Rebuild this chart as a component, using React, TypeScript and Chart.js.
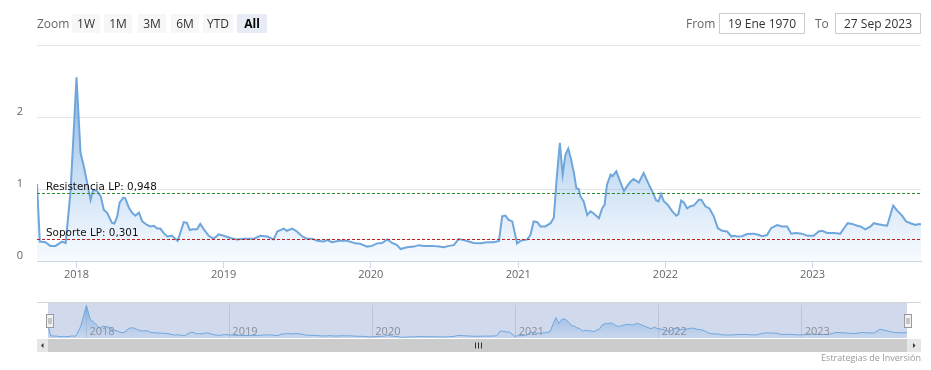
import React, { useEffect, useRef } from "react";
import { Chart, registerables } from "chart.js";

Chart.register(...registerables);

// ---------- data ----------
const SERIES_DATES: string[] = [
  // 2017
  "2017-09-25", "2017-10-02", "2017-10-16", "2017-10-28", "2017-11-10", "2017-11-26", "2017-12-05", "2017-12-17", "2017-12-25",
  // 2018
  "2018-01-01", "2018-01-11", "2018-01-19", "2018-01-29", "2018-02-05", "2018-02-11", "2018-02-21", "2018-03-02", "2018-03-10",
  "2018-03-18", "2018-03-30", "2018-04-05", "2018-04-12", "2018-04-18", "2018-04-27", "2018-05-02", "2018-05-11", "2018-05-19",
  "2018-05-27", "2018-06-05", "2018-06-13", "2018-06-25", "2018-07-03", "2018-07-12", "2018-07-20", "2018-07-28", "2018-08-05",
  "2018-08-14", "2018-08-26", "2018-09-03", "2018-09-09", "2018-09-16", "2018-09-24", "2018-10-02", "2018-10-09", "2018-10-17",
  "2018-10-27", "2018-11-04", "2018-11-13", "2018-11-25", "2018-12-07", "2018-12-20",
  // 2019
  "2019-01-01", "2019-01-18", "2019-02-03", "2019-02-20", "2019-03-17", "2019-04-02", "2019-04-19", "2019-05-05", "2019-05-14",
  "2019-05-22", "2019-05-30", "2019-06-07", "2019-06-20", "2019-07-02", "2019-07-15", "2019-07-27", "2019-08-09", "2019-08-21",
  "2019-09-06", "2019-09-15", "2019-09-27", "2019-10-14", "2019-11-03", "2019-11-24", "2019-12-06", "2019-12-23",
  // 2020
  "2020-01-04", "2020-01-17", "2020-01-29", "2020-02-11", "2020-02-23", "2020-03-06", "2020-03-15", "2020-03-31", "2020-04-17",
  "2020-04-29", "2020-05-12", "2020-06-01", "2020-06-18", "2020-06-30", "2020-07-13", "2020-07-25", "2020-08-06", "2020-08-19",
  "2020-08-31", "2020-09-12", "2020-09-29", "2020-10-16", "2020-11-01", "2020-11-14", "2020-11-22", "2020-11-30", "2020-12-08",
  "2020-12-17", "2020-12-29",
  // 2021
  "2021-01-06", "2021-01-23", "2021-01-31", "2021-02-08", "2021-02-17", "2021-02-25", "2021-03-09", "2021-03-22", "2021-03-30",
  "2021-04-06", "2021-04-14", "2021-04-21", "2021-04-28", "2021-05-05", "2021-05-12", "2021-05-19", "2021-05-25", "2021-05-31",
  "2021-06-04", "2021-06-12", "2021-06-21", "2021-06-29", "2021-07-07", "2021-07-20", "2021-07-28", "2021-08-03", "2021-08-09",
  "2021-08-18", "2021-08-23", "2021-09-01", "2021-09-11", "2021-09-20", "2021-09-28", "2021-10-06", "2021-10-14", "2021-10-27",
  "2021-11-08", "2021-11-21", "2021-11-29", "2021-12-09", "2021-12-15", "2021-12-21", "2021-12-28",
  // 2022
  "2022-01-07", "2022-01-18", "2022-01-28", "2022-02-02", "2022-02-09", "2022-02-16", "2022-02-24", "2022-03-04", "2022-03-12",
  "2022-03-25", "2022-03-31", "2022-04-10", "2022-04-20", "2022-05-01", "2022-05-11", "2022-05-22", "2022-06-03", "2022-06-14",
  "2022-06-20", "2022-06-28", "2022-07-10", "2022-07-23", "2022-08-08", "2022-08-21", "2022-08-29", "2022-09-10", "2022-09-20",
  "2022-10-05", "2022-10-18", "2022-10-30", "2022-11-09", "2022-11-20", "2022-12-06", "2022-12-19",
  // 2023
  "2023-01-04", "2023-01-16", "2023-01-25", "2023-02-06", "2023-02-23", "2023-03-11", "2023-03-20", "2023-03-29", "2023-04-09",
  "2023-04-22", "2023-04-30", "2023-05-12", "2023-05-25", "2023-06-02", "2023-06-10", "2023-06-23", "2023-07-05", "2023-07-20",
  "2023-07-30", "2023-08-11", "2023-08-21", "2023-09-01", "2023-09-13", "2023-09-22", "2023-09-27",
];

const SERIES_VALUES: number[] = [
  // 2017
  1.07, 0.27, 0.26, 0.21, 0.21, 0.27, 0.25, 0.95, 1.79,
  // 2018
  2.55, 1.5, 1.32, 1.04, 0.85, 0.99, 0.97, 0.9, 0.71,
  0.67, 0.53, 0.52, 0.62, 0.81, 0.88, 0.87, 0.74, 0.67,
  0.63, 0.67, 0.55, 0.5, 0.48, 0.49, 0.45, 0.45, 0.39,
  0.34, 0.35, 0.31, 0.28, 0.4, 0.54, 0.53, 0.43, 0.44,
  0.44, 0.515, 0.44, 0.35, 0.31, 0.37,
  // 2019
  0.35, 0.32, 0.3, 0.31, 0.31, 0.35, 0.34, 0.3, 0.41,
  0.43, 0.45, 0.42, 0.45, 0.41, 0.34, 0.31, 0.31, 0.28,
  0.27, 0.29, 0.26, 0.28, 0.28, 0.245, 0.24, 0.2,
  // 2020
  0.21, 0.245, 0.25, 0.3, 0.25, 0.22, 0.166, 0.19, 0.2,
  0.22, 0.21, 0.21, 0.2, 0.19, 0.21, 0.22, 0.305, 0.29,
  0.27, 0.25, 0.245, 0.26, 0.26, 0.28, 0.62, 0.63, 0.57,
  0.55, 0.245,
  // 2021
  0.28, 0.3, 0.36, 0.55, 0.54, 0.48, 0.48, 0.525, 0.6,
  1.13, 1.64, 1.2, 1.48, 1.56, 1.41, 1.22, 1.01, 1.0,
  0.9, 0.83, 0.64, 0.69, 0.66, 0.595, 0.73, 0.78, 1.06,
  1.2, 1.18, 1.245, 1.1, 0.97, 1.04, 1.1, 1.14, 1.09,
  1.22, 1.06, 0.97, 0.84, 0.83, 0.93, 0.83,
  // 2022
  0.78, 0.69, 0.63, 0.65, 0.84, 0.81, 0.73, 0.76, 0.77,
  0.85, 0.85, 0.76, 0.73, 0.62, 0.455, 0.42, 0.41, 0.34,
  0.35, 0.34, 0.345, 0.375, 0.38, 0.36, 0.345, 0.36, 0.455,
  0.5, 0.48, 0.48, 0.38, 0.39, 0.38, 0.35,
  // 2023
  0.35, 0.41, 0.42, 0.39, 0.39, 0.38, 0.455, 0.525, 0.515,
  0.49, 0.48, 0.44, 0.48, 0.525, 0.515, 0.5, 0.49, 0.77,
  0.7, 0.63, 0.55, 0.525, 0.5, 0.515, 0.51,
];

const YEAR_TICKS: number[] = [2018, 2019, 2020, 2021, 2022, 2023];
const Y_TICKS: number[] = [0, 1, 2, 3];
const Y_MIN = 0;
const Y_MAX = 3;

const RESISTANCE_VALUE = 0.948;
const RESISTANCE_LABEL = "Resistencia LP: 0,948";
const SUPPORT_VALUE = 0.301;
const SUPPORT_LABEL = "Soporte LP: 0,301";

const ZOOM_LABEL = "Zoom";
const ZOOM_BUTTONS: string[] = ["1W", "1M", "3M", "6M", "YTD", "All"];
const SELECTED_BUTTON = "All";
const FROM_LABEL = "From";
const FROM_VALUE = "19 Ene 1970";
const TO_LABEL = "To";
const TO_VALUE = "27 Sep 2023";
const CREDIT_TEXT = "Estrategias de Inversión";

// ---------- derived ----------
const POINTS = SERIES_DATES.map((d, i) => ({ x: Date.parse(d), y: SERIES_VALUES[i] }));
const X_MIN = POINTS[0].x;
const X_MAX = POINTS[POINTS.length - 1].x;
const YEAR_MS = YEAR_TICKS.map((y) => Date.UTC(y, 0, 1));
const DATA_MAX = Math.max(...SERIES_VALUES);
const DATA_MIN = Math.min(...SERIES_VALUES);

const FONT = '"Open Sans", "DejaVu Sans", sans-serif';
const LINE_COLOR = "#6fa6dc";

const PLOT_LINES = [
  { value: RESISTANCE_VALUE, label: RESISTANCE_LABEL, color: "#2a8f2a" },
  { value: SUPPORT_VALUE, label: SUPPORT_LABEL, color: "#c02020" },
];

const plotLinesPlugin = {
  id: "plotLines",
  afterDatasetsDraw(chart: any) {
    const { ctx, chartArea, scales } = chart;
    const y = scales.y;
    PLOT_LINES.forEach((pl) => {
      const py = Math.round(y.getPixelForValue(pl.value)) + 0.5;
      ctx.save();
      ctx.strokeStyle = pl.color;
      ctx.lineWidth = 1;
      ctx.setLineDash([3, 2]);
      ctx.beginPath();
      ctx.moveTo(chartArea.left, py);
      ctx.lineTo(chartArea.right, py);
      ctx.stroke();
      ctx.setLineDash([]);
      ctx.fillStyle = "#111";
      ctx.font = `10.4px "DejaVu Sans", sans-serif`;
      ctx.textBaseline = "middle";
      ctx.textAlign = "left";
      ctx.fillText(pl.label, chartArea.left + 9, py - 6);
      ctx.restore();
    });
  },
};

const navigatorPlugin = {
  id: "navigatorDecor",
  beforeDraw(chart: any) {
    const { ctx, chartArea } = chart;
    ctx.save();
    ctx.fillStyle = "rgba(102,133,194,0.3)";
    ctx.fillRect(chartArea.left, chartArea.top - 2, chartArea.right - chartArea.left, chartArea.bottom - chartArea.top + 2);
    ctx.strokeStyle = "#d6d6d6";
    ctx.lineWidth = 1;
    ctx.beginPath();
    ctx.moveTo(37, chartArea.top - 2.5);
    ctx.lineTo(921, chartArea.top - 2.5);
    ctx.stroke();
    ctx.restore();
  },
  afterDatasetsDraw(chart: any) {
    const { ctx, chartArea, scales } = chart;
    const xs = scales.x;
    ctx.save();
    ctx.fillStyle = "#8a8f99";
    ctx.font = `11px ${FONT}`;
    ctx.textAlign = "left";
    ctx.textBaseline = "middle";
    xs.ticks.forEach((t: any) => {
      const px = xs.getPixelForValue(t.value);
      ctx.fillText(String(new Date(t.value).getUTCFullYear()), px + 3, chartArea.bottom - 6);
    });
    ctx.restore();
  },
  afterDraw(chart: any) {
    const { ctx, chartArea } = chart;
    ctx.save();
    // scrollbar
    const sy = chartArea.bottom + 1;
    const sh = 13;
    ctx.fillStyle = "#f2f2f2";
    ctx.fillRect(37, sy, 884, sh);
    ctx.fillStyle = "#cccccc";
    ctx.fillRect(chartArea.left, sy, chartArea.right - chartArea.left, sh);
    // buttons
    ctx.fillStyle = "#e6e6e6";
    ctx.fillRect(37, sy, 11, sh);
    ctx.fillRect(chartArea.right, sy, 921 - chartArea.right, sh);
    ctx.fillStyle = "#333";
    const cy = sy + sh / 2;
    ctx.beginPath();
    ctx.moveTo(41, cy);
    ctx.lineTo(43.5, cy - 2.5);
    ctx.lineTo(43.5, cy + 2.5);
    ctx.closePath();
    ctx.fill();
    const rx = (chartArea.right + 921) / 2;
    ctx.beginPath();
    ctx.moveTo(rx + 1.5, cy);
    ctx.lineTo(rx - 1, cy - 2.5);
    ctx.lineTo(rx - 1, cy + 2.5);
    ctx.closePath();
    ctx.fill();
    // grip
    const gx = Math.round((chartArea.left + chartArea.right) / 2);
    ctx.strokeStyle = "#333";
    ctx.lineWidth = 1;
    for (let k = -1; k <= 1; k++) {
      ctx.beginPath();
      ctx.moveTo(gx + k * 3 + 0.5, cy - 3);
      ctx.lineTo(gx + k * 3 + 0.5, cy + 3);
      ctx.stroke();
    }
    // handles
    const hy = chartArea.top + 9;
    [chartArea.left + 1, chartArea.right].forEach((hx) => {
      const x0 = Math.round(hx - 3.5) + 0.5;
      ctx.fillStyle = "#f2f2f2";
      ctx.strokeStyle = "#999999";
      ctx.fillRect(x0, hy + 0.5, 7, 13);
      ctx.strokeRect(x0, hy + 0.5, 7, 13);
      ctx.beginPath();
      ctx.moveTo(x0 + 2.5, hy + 4);
      ctx.lineTo(x0 + 2.5, hy + 10);
      ctx.moveTo(x0 + 4.5, hy + 4);
      ctx.lineTo(x0 + 4.5, hy + 10);
      ctx.stroke();
    });
    ctx.restore();
  },
};

function makeGradient(chart: any, topAlpha: number, bottomAlpha: number) {
  const { ctx, chartArea, scales } = chart;
  if (!chartArea) return "rgba(124,181,236,0.3)";
  const top = scales.y.getPixelForValue(DATA_MAX);
  const g = ctx.createLinearGradient(0, top, 0, chartArea.bottom);
  g.addColorStop(0, `rgba(90,148,212,${topAlpha})`);
  g.addColorStop(1, `rgba(124,181,236,${bottomAlpha})`);
  return g;
}

export default function App() {
  const mainRef = useRef<HTMLCanvasElement | null>(null);
  const navRef = useRef<HTMLCanvasElement | null>(null);

  useEffect(() => {
    const tickFont = { family: FONT, size: 11 };
    const main = new Chart(mainRef.current as HTMLCanvasElement, {
      type: "line",
      data: {
        datasets: [
          {
            data: POINTS,
            borderColor: LINE_COLOR,
            borderWidth: 2,
            pointRadius: 0,
            tension: 0,
            fill: "start",
            backgroundColor: (c: any) => makeGradient(c.chart, 0.72, 0.06),
          },
        ],
      },
      options: {
        animation: false,
        responsive: false,
        maintainAspectRatio: false,
        events: [],
        layout: { padding: { top: 45, right: 10, left: 0, bottom: 0 } },
        plugins: { legend: { display: false }, tooltip: { enabled: false } },
        scales: {
          x: {
            type: "linear",
            min: X_MIN,
            max: X_MAX,
            afterBuildTicks: (s: any) => {
              s.ticks = YEAR_MS.map((v) => ({ value: v }));
            },
            afterFit: (s: any) => {
              s.height = 29;
            },
            grid: { drawOnChartArea: false, drawTicks: true, tickLength: 7, color: "#ccd6eb" },
            border: { display: true, color: "#ccd6eb" },
            ticks: {
              autoSkip: false,
              maxRotation: 0,
              padding: 0,
              color: "#666",
              font: tickFont,
              callback: (v: any) => String(new Date(Number(v)).getUTCFullYear()),
            },
          },
          y: {
            min: Y_MIN,
            max: Y_MAX,
            afterBuildTicks: (s: any) => {
              s.ticks = Y_TICKS.map((v) => ({ value: v }));
            },
            afterFit: (s: any) => {
              s.width = 37;
            },
            grid: { color: "#e6e6e6", drawTicks: false },
            border: { display: false },
            ticks: {
              padding: 14,
              labelOffset: -5,
              color: "#666",
              font: tickFont,
              callback: (v: any) => (Number(v) === Y_MAX ? "" : String(v)),
            },
          },
        },
      },
      plugins: [plotLinesPlugin],
    } as any);

    const nav = new Chart(navRef.current as HTMLCanvasElement, {
      type: "line",
      data: {
        datasets: [
          {
            data: POINTS,
            borderColor: LINE_COLOR,
            borderWidth: 1,
            pointRadius: 0,
            tension: 0,
            fill: "start",
            backgroundColor: (c: any) => makeGradient(c.chart, 0.65, 0.1),
          },
        ],
      },
      options: {
        animation: false,
        responsive: false,
        maintainAspectRatio: false,
        events: [],
        layout: { padding: { top: 15, right: 24, left: 48, bottom: 0 } },
        plugins: { legend: { display: false }, tooltip: { enabled: false } },
        scales: {
          x: {
            type: "linear",
            min: X_MIN,
            max: X_MAX,
            afterBuildTicks: (s: any) => {
              s.ticks = YEAR_MS.map((v) => ({ value: v }));
            },
            afterFit: (s: any) => {
              s.height = 32;
            },
            grid: { drawOnChartArea: true, drawTicks: false, color: "rgba(120,130,150,0.25)" },
            border: { display: false },
            ticks: { display: false },
          },
          y: {
            display: false,
            min: DATA_MIN - 0.05,
            max: DATA_MAX + 0.03,
          },
        },
      },
      plugins: [navigatorPlugin],
    } as any);

    return () => {
      main.destroy();
      nav.destroy();
    };
  }, []);

  const btnLefts = [72, 104, 138, 171, 203, 237];
  const btnWidths = [28, 28, 28, 28, 30, 30];

  return (
    <div
      style={{
        position: "absolute",
        left: 0,
        top: 0,
        width: 931,
        height: 370,
        background: "#fff",
        overflow: "hidden",
        fontFamily: FONT,
      }}
    >
      <canvas ref={mainRef} width={931} height={290} style={{ position: "absolute", left: 0, top: 0, width: 931, height: 290 }} />
      <canvas ref={navRef} width={931} height={80} style={{ position: "absolute", left: 0, top: 290, width: 931, height: 80 }} />

      <div style={{ position: "absolute", left: 37, top: 14, height: 19, lineHeight: "19px", fontSize: 12, color: "#666" }}>
        {ZOOM_LABEL}
      </div>
      {ZOOM_BUTTONS.map((b, i) => {
        const sel = b === SELECTED_BUTTON;
        return (
          <div
            key={b}
            style={{
              position: "absolute",
              left: btnLefts[i],
              top: 14,
              width: btnWidths[i],
              height: 19,
              lineHeight: "19px",
              textAlign: "center",
              fontSize: 12,
              background: sel ? "#e6ebf5" : "#f7f7f7",
              color: sel ? "#000" : "#333",
              fontWeight: sel ? "bold" : "normal",
            }}
          >
            {b}
          </div>
        );
      })}

      <div style={{ position: "absolute", left: 686, top: 14, height: 19, lineHeight: "19px", fontSize: 12, color: "#666" }}>
        {FROM_LABEL}
      </div>
      <div
        style={{
          position: "absolute",
          left: 719,
          top: 13,
          width: 84,
          height: 19,
          lineHeight: "19px",
          border: "1px solid #cccccc",
          textAlign: "center",
          fontSize: 12,
          color: "#333",
        }}
      >
        {FROM_VALUE}
      </div>
      <div style={{ position: "absolute", left: 815, top: 14, height: 19, lineHeight: "19px", fontSize: 12, color: "#666" }}>
        {TO_LABEL}
      </div>
      <div
        style={{
          position: "absolute",
          left: 835,
          top: 13,
          width: 84,
          height: 19,
          lineHeight: "19px",
          border: "1px solid #cccccc",
          textAlign: "center",
          fontSize: 12,
          color: "#333",
        }}
      >
        {TO_VALUE}
      </div>

      <div
        style={{
          position: "absolute",
          right: 10,
          top: 352,
          fontSize: 9,
          lineHeight: "12px",
          color: "#999",
        }}
      >
        {CREDIT_TEXT}
      </div>
    </div>
  );
}
